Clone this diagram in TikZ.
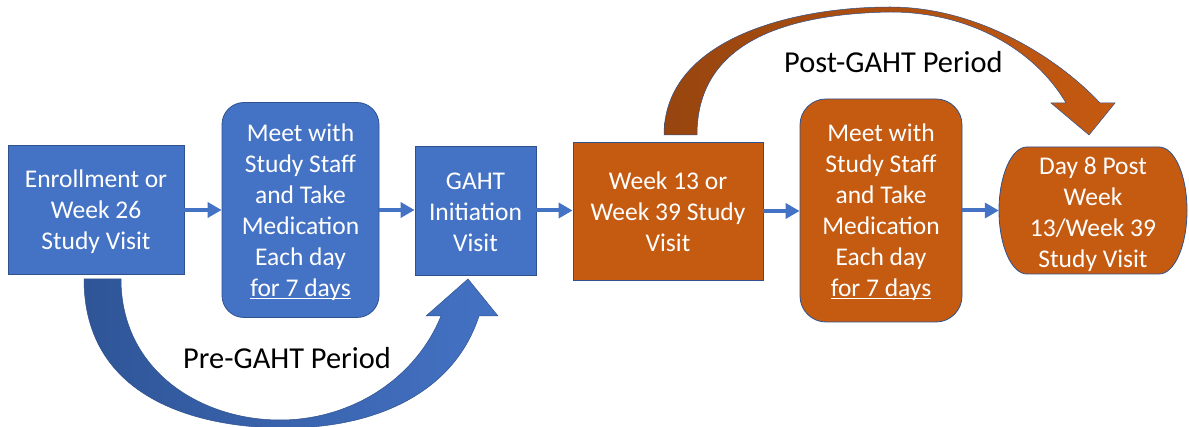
\documentclass[tikz,border=0pt]{standalone}
\usepackage{fontspec}
\setmainfont{Carlito}
\usetikzlibrary{arrows.meta}
\definecolor{bfill}{HTML}{4472C4}
\definecolor{bdark}{HTML}{2F5597}
\definecolor{bline}{HTML}{2F528F}
\definecolor{ofill}{HTML}{C55A11}
\definecolor{odark}{HTML}{97450F}
\newcommand{\myul}[1]{{\setbox0\hbox{#1}\rlap{\rule[-2.6pt]{\wd0}{1.1pt}}\box0}}
\begin{document}
\begin{tikzpicture}[x=1pt,y=-1pt,
  box/.style={draw=bline, line width=0.8pt, inner sep=0pt},
  bluebox/.style={box, fill=bfill},
  orangebox/.style={box, fill=ofill},
  boxtext/.style={text=white, align=center, inner sep=0pt, font=\fontsize{25.5}{31}\selectfont},
  conn/.style={draw=bfill, line width=4pt, -{Triangle[length=14pt,width=15pt]}},
  periodlabel/.style={font=\fontsize{30.4}{36}\selectfont, anchor=base west, inner sep=0pt},
  bendarrow/.style={draw=bline, line width=0.5pt}
]
\useasboundingbox (0,0) rectangle (1189,427);

% curved arrows
\path[bendarrow, left color=bdark, right color=bfill]
  (84,279) .. controls (84,400) and (200,428) .. (285,428)
  .. controls (380,428) and (455,390) .. (479,316)
  -- (498,316) -- (468,279) -- (426,316) -- (441,316)
  .. controls (415,380) and (350,420) .. (280,420)
  .. controls (200,420) and (121,370) .. (121,279) -- cycle;

\path[bendarrow, left color=odark, right color=ofill]
  (664,135) .. controls (664,40) and (790,7) .. (890,7)
  .. controls (980,7) and (1060,60) .. (1100,103)
  -- (1115,103) -- (1089,135) -- (1051,103) -- (1066,103)
  .. controls (1035,50) and (970,12) .. (890,12)
  .. controls (780,14) and (697,45) .. (697,135) -- cycle;

% boxes
\node[bluebox, minimum width=176pt, minimum height=129pt] (n1) at (96,210) {};
\node[bluebox, rounded corners=22pt, minimum width=157pt, minimum height=215pt] (n2) at (300.5,210) {};
\node[bluebox, minimum width=121pt, minimum height=129pt] (n3) at (475.5,210.5) {};
\node[orangebox, minimum width=190pt, minimum height=138pt] (n4) at (668,211) {};
\node[orangebox, rounded corners=26pt, minimum width=162pt, minimum height=223pt] (n5) at (881,210.5) {};
\path[fill=ofill, draw=bline, line width=0.8pt]
  (1027,147) -- (1159,147) .. controls (1174.5,147) and (1187,175.4) .. (1187,210.5)
  .. controls (1187,245.6) and (1174.5,274) .. (1159,274) -- (1027,274)
  .. controls (1011.5,274) and (999,245.6) .. (999,210.5)
  .. controls (999,175.4) and (1011.5,147) .. (1027,147) -- cycle;
\node[inner sep=0pt, minimum width=188pt, minimum height=127pt] (n6) at (1093,210.5) {};

% box texts
\node[boxtext] (t1) at ([yshift=-2pt]n1.center) {Enrollment or\\Week 26\\Study Visit};
\node[boxtext] (t2) at ([yshift=-2pt]n2.center) {Meet with\\Study Staff\\and Take\\Medication\\Each day\\\myul{for 7 days}};
\node[boxtext] (t3) at ([yshift=-1.5pt]n3.center) {GAHT\\Initiation\\Visit};
\node[boxtext] (t4) at ([yshift=-0.5pt]n4.center) {Week 13 or\\Week 39 Study\\Visit};
\node[boxtext] (t5) at ([yshift=-2pt]n5.center) {Meet with\\Study Staff\\and Take\\Medication\\Each day\\\myul{for 7 days}};
\node[boxtext] (t6) at ([yshift=-3.5pt]n6.center) {Day 8 Post\\Week\\13/Week 39\\Study Visit};

% connectors
\draw[conn] (n1.east) -- (n1.east -| n2.west);
\draw[conn] (n2.east) -- (n2.east -| n3.west);
\draw[conn] (n3.east) -- (n3.east -| n4.west);
\draw[conn] (n4.east) -- (n4.east -| n5.west);
\draw[conn] (n5.east) -- (n5.east -| n6.west);

% labels
\node[periodlabel] (pre) at (183,369) {Pre-GAHT Period};
\node[periodlabel] (post) at (784,73) {Post-GAHT Period};
\end{tikzpicture}
\end{document}
